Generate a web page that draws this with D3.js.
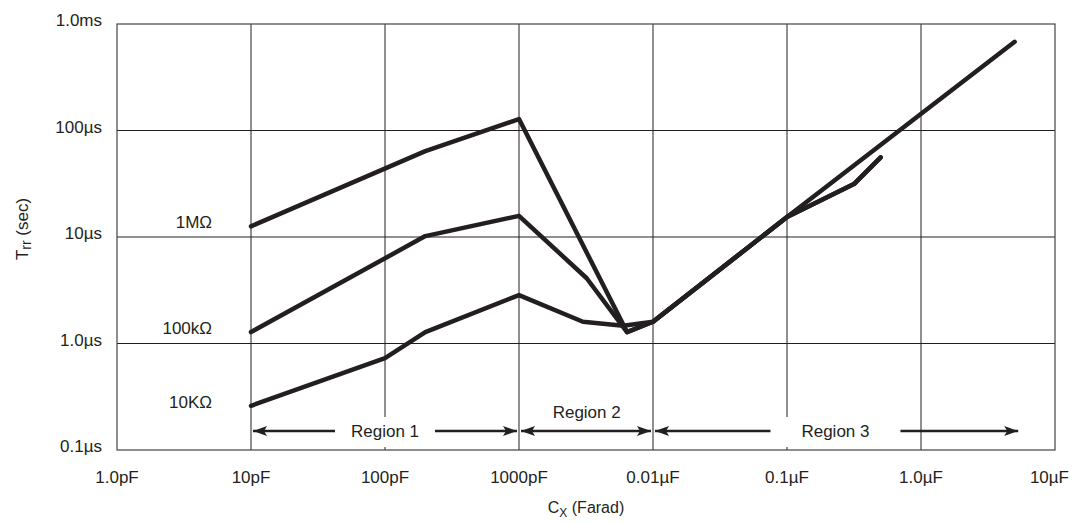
<!DOCTYPE html>
<html>
<head>
<meta charset="utf-8">
<script src="https://cdn.jsdelivr.net/npm/d3@7"></script>
<style>
  body { margin: 0; background: #fff; }
  text { font-family: 'Liberation Sans', Arial, sans-serif; fill: #231f20; }
</style>
</head>
<body>
<script>
// capacitance in pF, time in microseconds
let xTicks = [1, 10, 100, 1000, 1e4, 1e5, 1e6, 1e7]
let xTickLabels = ['1.0pF', '10pF', '100pF', '1000pF', '0.01\u00b5F', '0.1\u00b5F', '1.0\u00b5F', '10\u00b5F']
let yTicks = [0.1, 1, 10, 100, 1000]
let yTickLabels = ['0.1\u00b5s', '1.0\u00b5s', '10\u00b5s', '100\u00b5s', '1.0ms']

let seriesNames = ['1M\u03a9', '100k\u03a9', '10K\u03a9']
let cap1M = [10, 200, 1000, 6400, 1e4, 1e5, 5e6]
let trr1M = [12.6, 64, 128, 1.28, 1.6, 15.4, 680]
let cap100k = [10, 200, 1000, 3200, 6400, 1e4, 1e5, 3.16e5, 5e5]
let trr100k = [1.28, 10.2, 15.8, 4.1, 1.28, 1.6, 15.4, 31.4, 56]
let cap10k = [10, 100, 200, 1000, 3000, 6000, 1e4, 1e5, 3.16e5, 5e5]
let trr10k = [0.26, 0.73, 1.28, 2.85, 1.6, 1.47, 1.6, 15.4, 31.4, 56]

let regionNames = ['Region 1', 'Region 2', 'Region 3']
let regionFrom = [10, 1000, 1e4]
let regionTo = [1000, 1e4, 5.5e6]
let regionLabelAt = [100, 3200, 2.3e5]

let width = 1073
let height = 523
let pLeft = 117, pRight = 1055, pTop = 24, pBottom = 450
let ink = '#231f20'

let svg = d3.select('body')
  .append('svg')
  .attr('width', width)
  .attr('height', height)

let x = d3.scaleLog().domain([1, 1e7]).range([pLeft, pRight])
let y = d3.scaleLog().domain([0.1, 1000]).range([pBottom, pTop])

// grid
svg.selectAll('.vgrid')
  .data(xTicks.slice(1, -1))
  .enter().append('line')
  .attr('x1', d => x(d)).attr('x2', d => x(d))
  .attr('y1', pTop).attr('y2', pBottom)
  .attr('stroke', ink).attr('stroke-width', 1)

svg.selectAll('.hgrid')
  .data(yTicks.slice(1, -1))
  .enter().append('line')
  .attr('x1', pLeft).attr('x2', pRight)
  .attr('y1', d => y(d)).attr('y2', d => y(d))
  .attr('stroke', ink).attr('stroke-width', 1)

svg.append('rect')
  .attr('x', pLeft).attr('y', pTop)
  .attr('width', pRight - pLeft).attr('height', pBottom - pTop)
  .attr('fill', 'none').attr('stroke', '#444').attr('stroke-width', 1.2)

// tick labels (last one pulled in so it stays on the page)
svg.selectAll('.xlab')
  .data(xTicks)
  .enter().append('text')
  .attr('x', (d, i) => i === xTicks.length - 1 ? width - 4 : x(d))
  .attr('y', pBottom + 33)
  .attr('text-anchor', (d, i) => i === xTicks.length - 1 ? 'end' : 'middle')
  .style('font-size', '17px')
  .text((d, i) => xTickLabels[i])

svg.selectAll('.ylab')
  .data(yTicks)
  .enter().append('text')
  .attr('x', pLeft - 15)
  .attr('y', d => y(d) + 2)
  .attr('text-anchor', 'end')
  .style('font-size', '17px')
  .text((d, i) => yTickLabels[i])

// axis titles
let xt = svg.append('text')
  .attr('x', (pLeft + pRight) / 2)
  .attr('y', 513)
  .attr('text-anchor', 'middle')
  .style('font-size', '16px')
xt.append('tspan').text('C')
xt.append('tspan').attr('dy', 4).style('font-size', '12px').text('X')
xt.append('tspan').attr('dy', -4).text(' (Farad)')

let yt = svg.append('text')
  .attr('transform', 'translate(28,' + 229 + ') rotate(-90)')
  .attr('text-anchor', 'middle')
  .style('font-size', '17px')
yt.append('tspan').text('T')
yt.append('tspan').attr('dy', 3).style('font-size', '14px').text('rr')
yt.append('tspan').attr('dy', -3).text(' (sec)')

// region arrows
let arrowY = pBottom - 19
let defs = svg.append('defs')
defs.append('marker')
  .attr('id', 'head')
  .attr('viewBox', '0 0 14 10')
  .attr('refX', 14).attr('refY', 5)
  .attr('markerWidth', 14).attr('markerHeight', 10)
  .attr('markerUnits', 'userSpaceOnUse')
  .attr('orient', 'auto-start-reverse')
  .append('path')
  .attr('d', 'M0,0 L14,5 L0,10 L3,5 Z')
  .attr('fill', ink)

regionNames.forEach((name, i) => {
  let x0 = x(regionFrom[i]) + 2
  let x1 = x(regionTo[i]) - 2
  let cx = x(regionLabelAt[i])
  if (i === 1) {
    svg.append('line')
      .attr('x1', x0).attr('x2', x1)
      .attr('y1', arrowY).attr('y2', arrowY)
      .attr('stroke', ink).attr('stroke-width', 2.5)
      .attr('marker-start', 'url(#head)')
      .attr('marker-end', 'url(#head)')
    svg.append('text')
      .attr('x', cx).attr('y', arrowY - 13)
      .attr('text-anchor', 'middle')
      .style('font-size', '17px')
      .text(name)
    return
  }
  let pad = i === 0 ? 50 : 65
  svg.append('rect')
    .attr('x', cx - pad).attr('y', arrowY - 14)
    .attr('width', pad * 2).attr('height', pBottom - 3 - (arrowY - 14))
    .attr('fill', '#fff')
  svg.append('line')
    .attr('x1', x0).attr('x2', cx - pad)
    .attr('y1', arrowY).attr('y2', arrowY)
    .attr('stroke', ink).attr('stroke-width', 2.5)
    .attr('marker-start', 'url(#head)')
  svg.append('line')
    .attr('x1', cx + pad).attr('x2', x1)
    .attr('y1', arrowY).attr('y2', arrowY)
    .attr('stroke', ink).attr('stroke-width', 2.5)
    .attr('marker-end', 'url(#head)')
  svg.append('text')
    .attr('x', cx).attr('y', arrowY + 6)
    .attr('text-anchor', 'middle')
    .style('font-size', '17px')
    .text(name)
})

// curves
let line = d3.line().x(d => x(d[0])).y(d => y(d[1]))
let series = [
  d3.zip(cap1M, trr1M),
  d3.zip(cap100k, trr100k),
  d3.zip(cap10k, trr10k)
]

svg.selectAll('.curve')
  .data(series)
  .enter().append('path')
  .attr('d', line)
  .attr('fill', 'none')
  .attr('stroke', ink)
  .attr('stroke-width', 4.5)
  .attr('stroke-linejoin', 'round')
  .attr('stroke-linecap', 'round')

svg.selectAll('.slab')
  .data(series)
  .enter().append('text')
  .attr('x', x(10) - 39)
  .attr('y', d => y(d[0][1]) + 2)
  .attr('text-anchor', 'end')
  .style('font-size', '17px')
  .text((d, i) => seriesNames[i])
</script>
</body>
</html>
